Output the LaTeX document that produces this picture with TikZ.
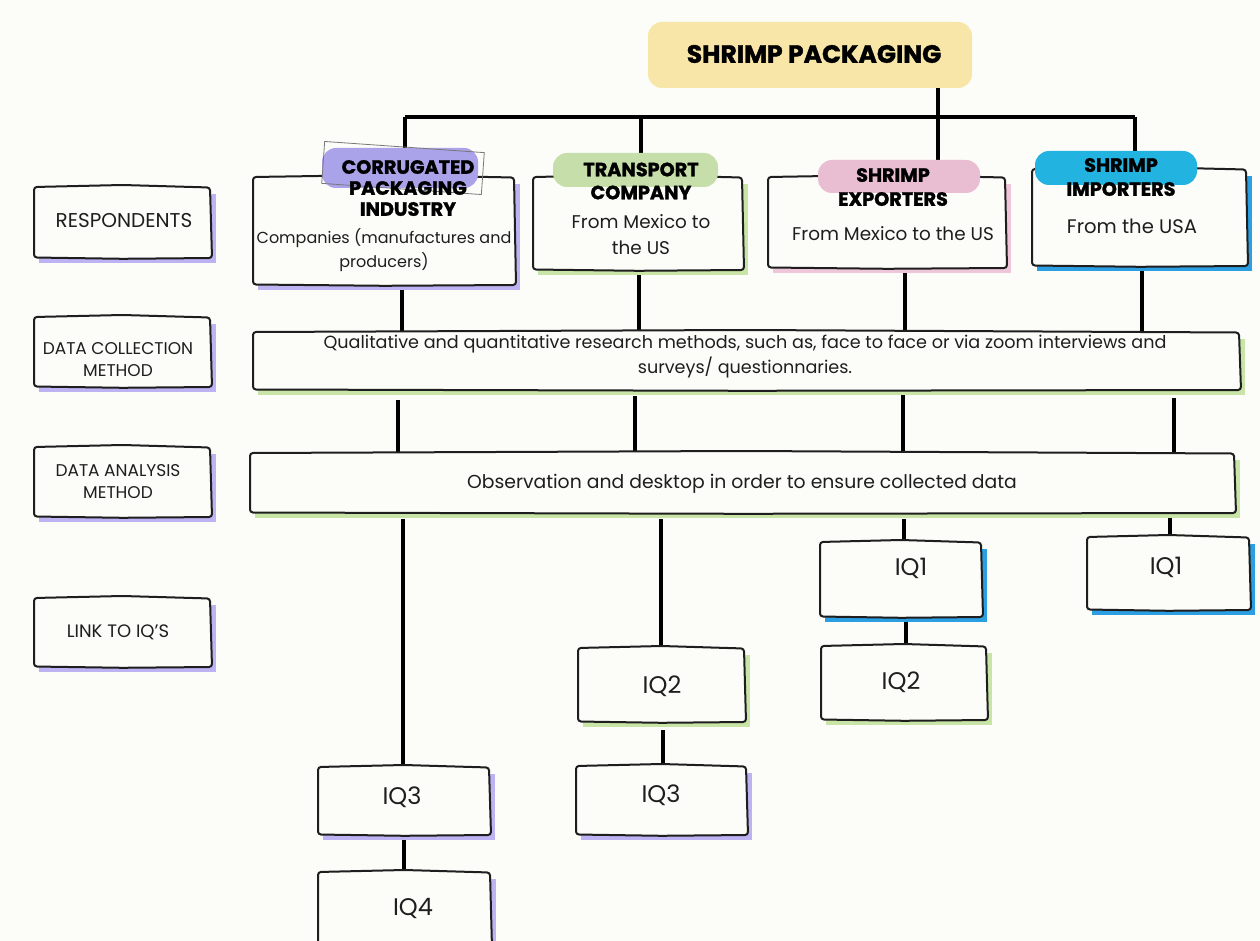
\documentclass[tikz,border=0pt]{standalone}
\usepackage{fontspec}
\setmainfont{Poppins}[BoldFeatures={FakeBold=1.5}]
\usetikzlibrary{calc,fit}
\definecolor{bg}{HTML}{FCFCF8}
\definecolor{ttl}{HTML}{F8E6A8}
\definecolor{pur}{HTML}{ABA3EA}
\definecolor{purS}{HTML}{BDB3F2}
\definecolor{grn}{HTML}{C6DFAA}
\definecolor{grnS}{HTML}{C8E4A6}
\definecolor{pnk}{HTML}{E9BDD2}
\definecolor{pnkS}{HTML}{EDC6DA}
\definecolor{blu}{HTML}{22B3E0}
\definecolor{bluS}{HTML}{2C9FE3}
\definecolor{ink}{HTML}{1E1E1E}
\tikzset{
 area/.style={inner sep=0pt, outer sep=0pt},
 conn/.style={line width=1.8pt, draw=black},
 edgeln/.style={line width=1pt, draw=ink, fill=bg, rounded corners=1.5pt, line join=round},
 blob/.style={rounded corners=7pt, inner sep=0pt, outer sep=0pt},
 hd/.style={font=\fontsize{9.6}{10.5}\selectfont\bfseries, align=center, text=black, inner sep=0pt},
 bd/.style={font=\fontsize{9.2}{12.5}\selectfont, align=center, text=ink, inner sep=0pt},
 lb/.style={font=\fontsize{8.5}{11}\selectfont, align=center, text=ink, inner sep=0pt},
 iq/.style={font=\fontsize{12}{13}\selectfont, text=ink, inner sep=0pt},
}
\newcommand\skbox[2]{%
 \fill[#2] ($(#1.north west)+(5,8)$) rectangle ($(#1.south east)+(5,5)$);
 \draw[edgeln] ($(#1.north west)+(0,1)$) -- ($(#1.north)+(0,-1)$) -- ($(#1.north east)+(-1,1.5)$)
   -- ($(#1.south east)+(1,0)$) -- ($(#1.south)+(0,0.8)$) -- ($(#1.south west)+(0,-0.5)$) -- cycle;
}
\begin{document}
\begin{tikzpicture}[x=0.5pt,y=-0.5pt]
\fill[bg] (0,0) rectangle (1260,941);
\useasboundingbox (0,0) rectangle (1260,941);

% ---------- box areas ----------
\node[area, fit={(34,186) (211,258)}] (L1) {};
\node[area, fit={(34,316) (211,387)}] (L2) {};
\node[area, fit={(34,446) (211,517)}] (L3) {};
\node[area, fit={(34,597) (211,667)}] (L4) {};
\node[area, fit={(253,176) (515,285)}] (b1) {};
\node[area, fit={(533,176) (743,270)}] (b2) {};
\node[area, fit={(768,176) (1006,268)}] (b3) {};
\node[area, fit={(1032,168) (1247,266)}] (b4) {};
\node[area, fit={(253,331) (1240,390)}] (dc) {};
\node[area, fit={(250,452) (1235,513)}] (da) {};
\node[area, fit={(820,541) (982,617)}] (q1e) {};
\node[area, fit={(821,645) (987,720)}] (q2e) {};
\node[area, fit={(1087,536) (1250,610)}] (q1i) {};
\node[area, fit={(578,647) (745,722)}] (q2t) {};
\node[area, fit={(576,765) (747,835)}] (q3t) {};
\node[area, fit={(318,766) (490,835)}] (q3l) {};
\node[area, fit={(318,871) (491,948)}] (q4) {};

% ---------- connectors ----------
\coordinate (hubL) at (405,117);
\coordinate (hubR) at (1135,117);
\coordinate (hubT) at (938,117);
\coordinate (v2) at (641,117);
\coordinate (x402) at (402,0);
\coordinate (x639) at (639,0);
\coordinate (x905) at (905,0);
\coordinate (x1142) at (1142,0);
\coordinate (x398) at (398,0);
\coordinate (x635) at (635,0);
\coordinate (x903) at (903,0);
\coordinate (x1174) at (1174,0);
\coordinate (x403) at (403,0);
\coordinate (x661) at (661,0);
\coordinate (x904) at (904,0);
\coordinate (x1170) at (1170,0);
\coordinate (x906) at (906,0);
\coordinate (x663) at (663,0);
\coordinate (x404) at (404,0);

\node[blob, fill=ttl, fit={(648,22) (972,88)}] (title) {};
\node[font=\fontsize{12.5}{13}\selectfont\bfseries, text=black, inner sep=0pt] (titletext) at (814,54) {SHRIMP PACKAGING};

\draw[conn] (hubL) -- (hubR);
\draw[conn] (hubL) -- (hubL |- b1.north);
\draw[conn] (v2) -- (v2 |- b2.north);
\draw[conn] (hubT |- title.south) -- (hubT |- b3.north);
\draw[conn] (hubR) -- (hubR |- b4.north);

\draw[conn] (x402 |- b1.south) -- (x402 |- dc.north);
\draw[conn] (x639 |- b2.south) -- (x639 |- dc.north);
\draw[conn] (x905 |- b3.south) -- (x905 |- dc.north);
\draw[conn] (x1142 |- b4.south) -- (x1142 |- dc.north);

\draw[conn] ([yshift=-5pt]x398 |- dc.south) -- (x398 |- da.north);
\draw[conn] ([yshift=-3pt]x635 |- dc.south) -- (x635 |- da.north);
\draw[conn] (x903 |- dc.south) -- (x903 |- da.north);
\draw[conn] ([yshift=-4pt]x1174 |- dc.south) -- (x1174 |- da.north);

\draw[conn] ([yshift=-3pt]x403 |- da.south) -- (x403 |- q3l.north);
\draw[conn] ([yshift=-3pt]x661 |- da.south) -- (x661 |- q2t.north);
\draw[conn] ([yshift=-3pt]x904 |- da.south) -- (x904 |- q1e.north);
\draw[conn] ([yshift=-2pt]x1170 |- da.south) -- (x1170 |- q1i.north);
\draw[conn] (x906 |- q1e.south) -- (x906 |- q2e.north);
\draw[conn] ([yshift=-4pt]x663 |- q2t.south) -- (x663 |- q3t.north);
\draw[conn] (x404 |- q3l.south) -- (x404 |- q4.north);

% ---------- boxes ----------
\skbox{L1}{purS}
\skbox{L2}{purS}
\skbox{L3}{purS}
\skbox{L4}{purS}
\skbox{b1}{purS}
\skbox{b2}{grnS}
\skbox{b3}{pnkS}
\skbox{b4}{bluS}
\skbox{dc}{grnS}
\skbox{da}{grnS}
\skbox{q1e}{bluS}
\skbox{q2e}{grnS}
\skbox{q1i}{bluS}
\skbox{q2t}{grnS}
\skbox{q3t}{purS}
\skbox{q3l}{purS}
\skbox{q4}{purS}

% ---------- header highlights ----------
\node[blob, fill=pur, fit={(322,148) (478,188)}] (l1) {};
\node[draw=ink!60, line width=0.4pt, rotate=-4, minimum width=80pt, minimum height=21pt, inner sep=0pt] (l1frame) at (403,168) {};
\node[blob, fill=grn, fit={(553,153) (718,187)}] (l2) {};
\node[blob, fill=pnk, fit={(818,160) (980,193)}] (l3) {};
\node[blob, fill=blu, fit={(1035,151) (1197,185)}] (l4) {};

% ---------- texts ----------
\node[hd] (t1) at (408,188) {CORRUGATED\\PACKAGING\\INDUSTRY};
\node[bd, font=\fontsize{8}{12}\selectfont] (s1) at (384,250) {Companies (manufactures and\\producers)};
\node[hd, font=\fontsize{9.6}{11.5}\selectfont\bfseries] (t2) at (641,181) {TRANSPORT\\COMPANY};
\node[bd, font=\fontsize{9.2}{13}\selectfont] (s2) at (641,235) {From Mexico to\\the US};
\node[hd, font=\fontsize{9.6}{12}\selectfont\bfseries] (t3) at (893,187) {SHRIMP\\EXPORTERS};
\node[bd] (s3) at (893,234) {From Mexico to the US};
\node[hd, font=\fontsize{9.6}{12}\selectfont\bfseries] (t4) at (1121,177) {SHRIMP\\IMPORTERS};
\node[bd, font=\fontsize{9.8}{12}\selectfont] (s4) at (1132,226) {From the USA};

\node[bd, font=\fontsize{8.8}{12.5}\selectfont] (dct) at (745,357) {Qualitative and quantitative research methods, such as, face to face or via zoom interviews and\\surveys/ questionnaries.};
\node[bd, font=\fontsize{9.4}{12}\selectfont] (dat) at (742,484) {Observation and desktop in order to ensure collected data};

\node[lb, font=\fontsize{10}{11}\selectfont] (L1t) at (124,221) {RESPONDENTS};
\node[lb] (L2t) at (118,360) {DATA COLLECTION\\METHOD};
\node[lb] (L3t) at (118,482) {DATA ANALYSIS\\METHOD};
\node[lb, font=\fontsize{9}{11}\selectfont] (L4t) at (118,632) {LINK TO IQ’S};

\node[iq] (q1et) at (911,568) {IQ1};
\node[iq] (q2et) at (901,682) {IQ2};
\node[iq] (q1it) at (1166,567) {IQ1};
\node[iq] (q2tt) at (662,686) {IQ2};
\node[iq] (q3tt) at (661,795) {IQ3};
\node[iq] (q3lt) at (402,797) {IQ3};
\node[iq] (q4t) at (413,908) {IQ4};
\end{tikzpicture}
\end{document}
